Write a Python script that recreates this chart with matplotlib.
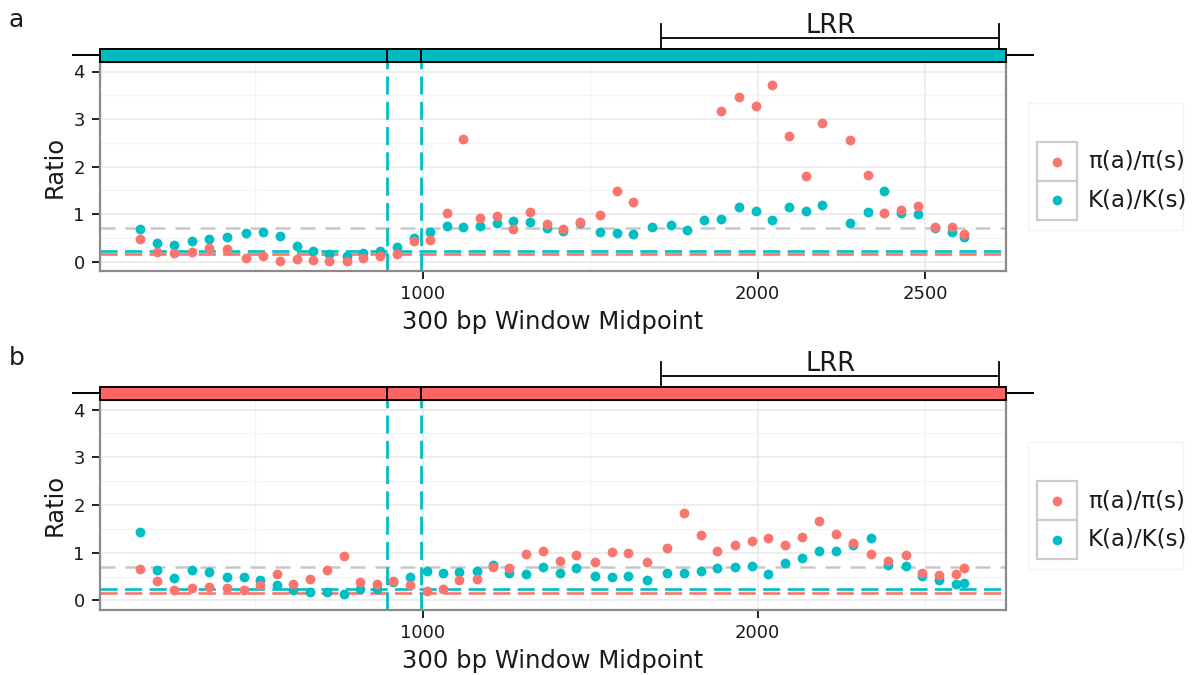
import matplotlib
matplotlib.use("Agg")
import matplotlib.pyplot as plt
import matplotlib.transforms as mtransforms
from matplotlib.patches import Rectangle
from matplotlib.lines import Line2D
import numpy as np

# ---- data ------------------------------------------------------------------
a_x = [157, 207, 258, 313, 363, 416, 473, 523, 575, 624, 674, 722, 774, 823,
       873, 923, 973, 1022, 1072, 1122, 1172, 1221, 1271, 1321, 1371, 1420,
       1470, 1530, 1580, 1629, 1684, 1741, 1790, 1840, 1890, 1945, 1995, 2044,
       2094, 2144, 2193, 2276, 2330, 2378, 2428, 2478, 2529, 2579, 2616]
a_pi = [0.47, 0.19, 0.18, 0.21, 0.28, 0.27, 0.08, 0.11, 0.01, 0.06, 0.04, 0.02,
        0.02, 0.08, 0.11, 0.15, 0.44, 0.46, 1.03, 2.58, 0.91, 0.95, 0.68, 1.04,
        0.79, 0.68, 0.84, 0.98, 1.49, 1.26, np.nan, np.nan, np.nan, np.nan,
        3.16, 3.46, 3.28, 3.71, 2.65, 1.80, 2.91, 2.55, 1.82, 1.02, 1.08, 1.16,
        0.72, 0.72, 0.58]
a_k = [0.69, 0.40, 0.35, 0.44, 0.48, 0.51, 0.61, 0.63, 0.53, 0.32, 0.23, 0.16,
       0.12, 0.18, 0.23, 0.30, 0.49, 0.62, 0.74, 0.72, 0.74, 0.81, 0.86, 0.84,
       0.70, 0.65, 0.81, 0.63, 0.61, 0.58, 0.72, 0.76, 0.67, 0.88, 0.90, 1.15,
       1.07, 0.88, 1.15, 1.07, 1.19, 0.81, 1.04, 1.49, 1.02, 1.00, 0.70, 0.63,
       0.51]

b_x = [157, 207, 258, 313, 363, 416, 466, 515, 565, 613, 664, 714, 764, 813,
       863, 913, 963, 1012, 1060, 1110, 1162, 1211, 1259, 1309, 1359, 1410,
       1458, 1515, 1565, 1614, 1669, 1731, 1781, 1831, 1880, 1933, 1983, 2032,
       2082, 2132, 2182, 2234, 2286, 2339, 2389, 2442, 2492, 2542, 2592, 2616]
b_pi = [0.65, 0.40, 0.21, 0.26, 0.28, 0.27, 0.21, 0.32, 0.56, 0.35, 0.44, 0.64,
        0.93, 0.39, 0.35, 0.40, 0.33, 0.20, 0.25, 0.42, 0.44, 0.70, 0.68, 0.98,
        1.03, 0.82, 0.96, 0.80, 1.02, 1.00, 0.81, 1.09, 1.83, 1.37, 1.04, 1.16,
        1.25, 1.30, 1.16, 1.32, 1.67, 1.40, 1.20, 0.98, 0.82, 0.95, 0.58, 0.53,
        0.56, 0.68]
b_k = [1.43, 0.63, 0.48, 0.63, 0.59, 0.49, 0.49, 0.42, 0.32, 0.21, 0.18, 0.18,
       0.13, 0.23, 0.25, 0.38, 0.49, 0.61, 0.58, 0.60, 0.62, 0.74, 0.58, 0.56,
       0.70, 0.58, 0.69, 0.51, 0.49, 0.51, 0.42, 0.58, 0.58, 0.61, 0.69, 0.70,
       0.72, 0.56, 0.79, 0.89, 1.03, 1.04, 1.17, 1.30, 0.75, 0.72, 0.51, 0.42,
       0.35, 0.37]

gray_ref = 0.70
k_ref = 0.23
pi_ref = 0.15
domain_breaks = [893, 995]
lrr_span = [1713, 2722]
y_ticks = [0, 1, 2, 3, 4]
series_labels = ["\u03c0(a)/\u03c0(s)", "K(a)/K(s)"]

RED = "#F8766D"
CYAN = "#00BFC4"
W, H = 1203, 675
XLIM = (37, 2740)
TICK_FS = 13

fig = plt.figure(figsize=(W / 100, H / 100), dpi=100)


def fbox(left, top, right, bottom):
    return [left / W, 1 - bottom / H, (right - left) / W, (bottom - top) / H]


def fx(px):
    return px / W


def fy(py):
    return 1 - py / H


def panel(box, x, pi, k, bar_color, major, minor, letter, top_px, legend_top):
    ax = fig.add_axes(box)
    h_px = box[3] * H
    up = lambda d: 1 + d / h_px  # pixels above the axes top -> axes fraction
    ax.set_xlim(XLIM)
    ax.set_ylim(-0.2, 4.2)
    ax.set_xticks(major, labels=[str(v) for v in major], fontsize=TICK_FS,
                  color="#1a1a1a")
    ax.set_xticks(minor, minor=True)
    ax.set_yticks(y_ticks, labels=[str(v) for v in y_ticks], fontsize=TICK_FS,
                  color="#1a1a1a")
    ax.set_yticks([0.5, 1.5, 2.5, 3.5], minor=True)
    ax.grid(True, which="major", color="#E8E8E8", lw=1.1, zorder=0)
    ax.grid(True, which="minor", color="#F3F3F3", lw=0.9, zorder=0)
    ax.set_axisbelow(True)
    ax.tick_params(which="major", length=5.5, width=1.4, color="#222222")
    ax.tick_params(axis="x", pad=4.5)
    ax.tick_params(axis="y", pad=5.5)
    ax.tick_params(which="minor", length=0)
    for s in ax.spines.values():
        s.set_color("#8a8a8a")
        s.set_linewidth(1.6)

    ax.axhline(gray_ref, color="#C8C8C8", lw=1.8, dashes=(6, 4), zorder=1)
    ax.axhline(k_ref, color=CYAN, lw=1.9, dashes=(6.5, 2.8), zorder=1)
    ax.axhline(pi_ref, color=RED, lw=1.9, dashes=(6.5, 2.8), zorder=1)
    for xb in domain_breaks:
        ax.axvline(xb, color=CYAN, lw=2.0, dashes=(6.5, 2.6), zorder=2)

    ax.scatter(x, k, s=50, color=CYAN, linewidths=0, zorder=3)
    ax.scatter(x, pi, s=50, color=RED, linewidths=0, zorder=4)

    # domain bar above the panel
    trans = mtransforms.blended_transform_factory(ax.transData, ax.transAxes)
    ax.add_line(Line2D([-43, 2822], [up(7.5), up(7.5)], color="black", lw=1.4,
                       transform=trans, clip_on=False, zorder=5))
    edges = [XLIM[0]] + domain_breaks + [XLIM[1]]
    for x0, x1 in zip(edges[:-1], edges[1:]):
        ax.add_patch(Rectangle((x0, 1.0), x1 - x0, up(13) - 1, transform=trans,
                               facecolor=bar_color, edgecolor="black", lw=1.4,
                               clip_on=False, zorder=6))
    l0, l1 = lrr_span
    for xx in (l0, l1):
        ax.add_line(Line2D([xx, xx], [up(13), up(38)], color="black", lw=1.3,
                           transform=trans, clip_on=False, zorder=5))
    ax.add_line(Line2D([l0, l1], [up(24), up(24)], color="black", lw=1.3,
                       transform=trans, clip_on=False, zorder=5))
    ax.text((l0 + l1) / 2, up(29), "LRR", transform=trans, ha="center",
            va="baseline", fontsize=18.5, color="#1a1a1a")

    bottom_px = (1 - box[1]) * H
    mid_x = (box[0] + box[2] / 2)
    fig.text(mid_x, fy(bottom_px + 58), "300 bp Window Midpoint", ha="center",
             va="baseline", fontsize=17.5, color="#1a1a1a")
    fig.text(fx(55), box[1] + box[3] / 2, "Ratio", rotation=90, ha="center",
             va="center", fontsize=17.5, color="#1a1a1a")
    fig.text(fx(9), fy(top_px - 42), letter, ha="left", va="center",
             fontsize=18, color="#1a1a1a")

    # legend
    lt = legend_top
    fig.add_artist(Rectangle((fx(1028), fy(lt + 88)), fx(155), (127) / H,
                             transform=fig.transFigure, facecolor="white",
                             edgecolor="#F3F3F3", lw=1.0))
    for i, (lab, col) in enumerate(zip(series_labels, [RED, CYAN])):
        t = lt + 39 * i
        fig.add_artist(Rectangle((fx(1037), fy(t + 39)), fx(40), 39 / H,
                                 transform=fig.transFigure, facecolor="white",
                                 edgecolor="#CCCCCC", lw=1.6))
        fig.add_artist(Line2D([fx(1057)], [fy(t + 19.5)], marker="o",
                              markersize=7.0, color=col, markeredgewidth=0,
                              transform=fig.transFigure))
        fig.text(fx(1088), fy(t + 19.5), lab, ha="left", va="center",
                 fontsize=16.5, color="#1a1a1a")
    return ax


panel(fbox(100, 62, 1005.5, 271), a_x, a_pi, a_k, "#00BCC0",
      [1000, 2000, 2500], [500, 1500], "a", 62, 142)
panel(fbox(100, 400, 1005.5, 610), b_x, b_pi, b_k, "#FF6464",
      [1000, 2000], [500, 1500, 2500], "b", 400, 481)

fig.savefig("out.png", dpi=100)
